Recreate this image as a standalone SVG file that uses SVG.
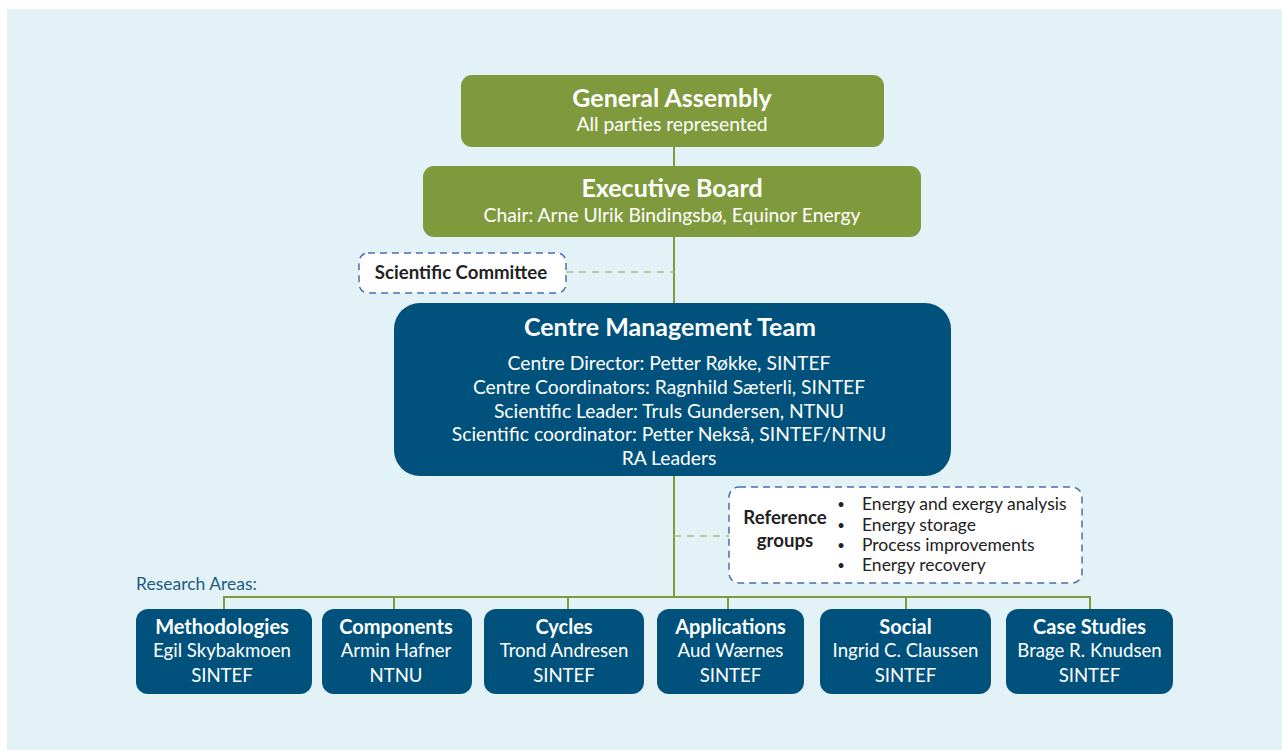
<svg xmlns="http://www.w3.org/2000/svg" width="1282" height="750" viewBox="0 0 1282 750">
  <style>
    text { font-family: Lato, "Open Sans", "Liberation Sans", sans-serif; text-anchor: middle; }
    .green { fill: #7f9a3c; }
    .blue { fill: #00527c; }
    .w { fill: #ffffff; }
    .t1 { font-size: 25px; font-weight: bold; }
    .t2 { font-size: 19.3px; }
    .tb { font-size: 20px; font-weight: bold; }
    .tn { font-size: 18.6px; }
    .dk { fill: #222222; font-size: 17.5px; text-anchor: start; }
    .bul { fill: #222222; font-size: 13px; text-anchor: middle; }
    .dkb { fill: #222222; font-size: 18.6px; font-weight: bold; }
    .dash { fill: #ffffff; stroke: #4a6fae; stroke-width: 1.5; stroke-dasharray: 7 5; }
    .conn { stroke: #7f9a3c; stroke-width: 2; fill: none; }
    .dconn { stroke: #a3c27c; stroke-width: 1.5; stroke-dasharray: 7 6; fill: none; }
  </style>

  <!-- background panel -->
  <rect x="0" y="0" width="1282" height="750" fill="#ffffff"/>
  <rect x="7" y="9" width="1275" height="741" fill="#e3f2f7"/>

  <!-- connectors -->
  <g id="connectors">
    <line class="conn" x1="674" y1="146" x2="674" y2="166"/>
    <line class="conn" x1="674" y1="237" x2="674" y2="304"/>
    <line class="conn" x1="674" y1="476" x2="674" y2="597"/>
    <line class="dconn" x1="566" y1="272" x2="674" y2="272"/>
    <line class="dconn" x1="674" y1="536" x2="729" y2="536"/>
    <line class="conn" x1="223" y1="597" x2="1091" y2="597"/>
    <line class="conn" x1="224" y1="596" x2="224" y2="610"/>
    <line class="conn" x1="394" y1="596" x2="394" y2="610"/>
    <line class="conn" x1="568" y1="596" x2="568" y2="610"/>
    <line class="conn" x1="728" y1="596" x2="728" y2="610"/>
    <line class="conn" x1="906" y1="596" x2="906" y2="610"/>
    <line class="conn" x1="1090" y1="596" x2="1090" y2="610"/>
  </g>

  <g id="general-assembly">
    <rect class="green" x="461" y="75" width="423" height="72" rx="11"/>
    <text class="w t1" x="672" y="107">General Assembly</text>
    <text class="w t2" x="672" y="131">All parties represented</text>
  </g>

  <g id="executive-board">
    <rect class="green" x="423" y="166" width="498" height="71" rx="11"/>
    <text class="w t1" x="672" y="197">Executive Board</text>
    <text class="w t2" x="672" y="222">Chair: Arne Ulrik Bindingsbø, Equinor Energy</text>
  </g>

  <g id="scientific-committee">
    <rect class="dash" x="359" y="253" width="207" height="40" rx="9"/>
    <text class="dkb" x="461" y="279">Scientific Committee</text>
  </g>

  <g id="centre-management-team">
    <rect class="blue" x="394" y="303" width="557" height="173" rx="26"/>
    <text class="w t1" x="670" y="336">Centre Management Team</text>
    <text class="w t2" x="669" y="370">Centre Director: Petter Røkke, SINTEF</text>
    <text class="w t2" x="669" y="394">Centre Coordinators: Ragnhild Sæterli, SINTEF</text>
    <text class="w t2" x="669" y="418">Scientific Leader: Truls Gundersen, NTNU</text>
    <text class="w t2" x="669" y="441">Scientific coordinator: Petter Nekså, SINTEF/NTNU</text>
    <text class="w t2" x="669" y="465">RA Leaders</text>
  </g>

  <g id="reference-groups">
    <rect class="dash" x="729" y="487" width="353" height="96" rx="10"/>
    <text class="dkb" x="785" y="524">Reference</text>
    <text class="dkb" x="785" y="547">groups</text>
    <text class="bul" x="841" y="509">•</text>
    <text class="bul" x="841" y="530">•</text>
    <text class="bul" x="841" y="550">•</text>
    <text class="bul" x="841" y="570">•</text>
    <text class="dk" x="862" y="510">Energy and exergy analysis</text>
    <text class="dk" x="862" y="531">Energy storage</text>
    <text class="dk" x="862" y="551">Process improvements</text>
    <text class="dk" x="862" y="571">Energy recovery</text>
  </g>

  <text x="136" y="590" style="text-anchor:start; font-size:17.5px; fill:#1d5b83">Research Areas:</text>

  <g id="ra-methodologies">
    <rect class="blue" x="136" y="609" width="176" height="85" rx="12"/>
    <text class="w tb" x="222" y="634">Methodologies</text>
    <text class="w tn" x="222" y="657">Egil Skybakmoen</text>
    <text class="w tn" x="222" y="682">SINTEF</text>
  </g>

  <g id="ra-components">
    <rect class="blue" x="322" y="609" width="150" height="85" rx="12"/>
    <text class="w tb" x="396" y="634">Components</text>
    <text class="w tn" x="396" y="657">Armin Hafner</text>
    <text class="w tn" x="396" y="682">NTNU</text>
  </g>

  <g id="ra-cycles">
    <rect class="blue" x="484" y="609" width="160" height="85" rx="12"/>
    <text class="w tb" x="564" y="634">Cycles</text>
    <text class="w tn" x="564" y="657">Trond Andresen</text>
    <text class="w tn" x="564" y="682">SINTEF</text>
  </g>

  <g id="ra-applications">
    <rect class="blue" x="657" y="609" width="147" height="85" rx="12"/>
    <text class="w tb" x="730.5" y="634">Applications</text>
    <text class="w tn" x="730.5" y="657">Aud Wærnes</text>
    <text class="w tn" x="730.5" y="682">SINTEF</text>
  </g>

  <g id="ra-social">
    <rect class="blue" x="820" y="609" width="171" height="85" rx="12"/>
    <text class="w tb" x="905.5" y="634">Social</text>
    <text class="w tn" x="905.5" y="657">Ingrid C. Claussen</text>
    <text class="w tn" x="905.5" y="682">SINTEF</text>
  </g>

  <g id="ra-case-studies">
    <rect class="blue" x="1006" y="609" width="167" height="85" rx="12"/>
    <text class="w tb" x="1089.5" y="634">Case Studies</text>
    <text class="w tn" x="1089.5" y="657">Brage R. Knudsen</text>
    <text class="w tn" x="1089.5" y="682">SINTEF</text>
  </g>
</svg>
